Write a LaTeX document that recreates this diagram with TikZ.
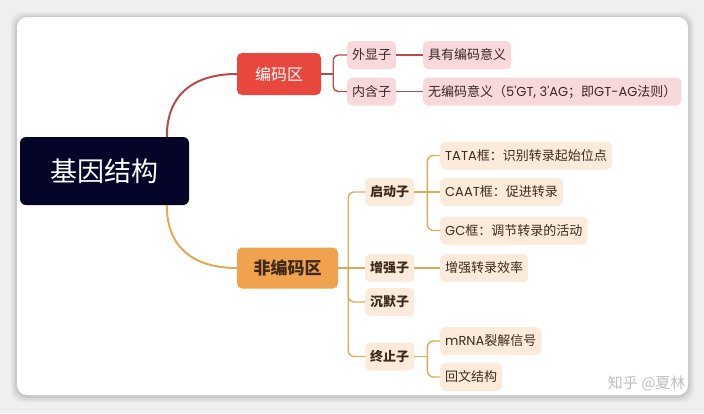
\documentclass[tikz,border=0pt]{standalone}
\usepackage{fontspec}
\setmainfont{Noto Sans CJK SC}
\newfontfamily\lat{Poppins}
\usetikzlibrary{calc}
\definecolor{navy}{HTML}{05052A}
\definecolor{codered}{HTML}{E7473C}
\definecolor{codeline}{HTML}{B84A4A}
\definecolor{pinkfill}{HTML}{F8D8DA}
\definecolor{pinktext}{HTML}{3B2626}
\definecolor{orangefill}{HTML}{F0A24E}
\definecolor{orangeline}{HTML}{E2A957}
\definecolor{peach}{HTML}{FCEBDB}
\definecolor{browntext}{HTML}{3D2A1A}
\definecolor{bggray}{HTML}{EFEFEF}
\tikzset{
  rootbox/.style={fill=navy,text=white,rounded corners=6pt,minimum width=169pt,minimum height=68pt,inner sep=0pt,font=\fontsize{27}{30}\selectfont},
  codebox/.style={fill=codered,text=white,rounded corners=5pt,minimum width=84pt,minimum height=42pt,inner sep=0pt,font=\fontsize{16}{18}\selectfont},
  nonbox/.style={fill=orangefill,text=browntext,rounded corners=5pt,minimum width=101pt,minimum height=41pt,inner sep=0pt,font=\fontsize{17}{19}\selectfont\bfseries},
  pinkbox/.style={fill=pinkfill,text=pinktext,rounded corners=5pt,minimum height=28pt,inner xsep=5pt,inner ysep=0pt,font=\fontsize{13}{15}\selectfont},
  peachbox/.style={fill=peach,text=browntext,rounded corners=5pt,minimum height=28pt,inner xsep=5pt,inner ysep=0pt,font=\fontsize{13}{15}\selectfont},
  peachbold/.style={peachbox,font=\fontsize{13}{15}\selectfont\bfseries},
  rootline/.style={line width=2pt},
  redline/.style={draw=codeline,line width=1.4pt},
  orline/.style={draw=orangeline,line width=1.4pt},
}
\begin{document}
\begin{tikzpicture}[x=1pt,y=-1pt]
\useasboundingbox (0,0) rectangle (704,413);
\fill[bggray] (0,0) rectangle (704,413);
\foreach \s/\o in {6/0.04,4/0.05,2/0.07}{
  \fill[black,opacity=\o,rounded corners=12pt] (17-\s,17-\s+1) rectangle (688+\s,395+\s+1);
}
\fill[white,rounded corners=10pt] (17,17) rectangle (688,395);

\node[rootbox] (root) at (104.5,171) {基因结构};
\node[codebox] (code) at (279,74) {编码区};
\node[nonbox] (non) at (287.5,268) {非编码区};

\node[pinkbox,anchor=west] (exon) at (347,55) {外显子};
\node[pinkbox,anchor=west] (intron) at (347,91.5) {内含子};
\node[pinkbox,anchor=west] (exonL) at (423,55) {具有编码意义};
\node[pinkbox,anchor=west] (intronL) at (423,91.5) {无编码意义（{\lat 5'GT, 3'AG}；即{\lat GT-AG}法则）};

\node[peachbold,anchor=west] (prom) at (365,192) {启动子};
\node[peachbold,anchor=west] (enh) at (365,268) {增强子};
\node[peachbold,anchor=west] (sil) at (365,302) {沉默子};
\node[peachbold,anchor=west] (term) at (365,356.5) {终止子};

\node[peachbox,anchor=west] (tata) at (440,155.5) {{\lat TATA}框：识别转录起始位点};
\node[peachbox,anchor=west] (caat) at (440,192) {{\lat CAAT}框：促进转录};
\node[peachbox,anchor=west] (gc) at (440,230.5) {{\lat GC}框：调节转录的活动};
\node[peachbox,anchor=west] (enhL) at (440,268) {增强转录效率};
\node[peachbox,anchor=west] (mrna) at (440,341) {{\lat mRNA}裂解信号};
\node[peachbox,anchor=west] (palin) at (440,377) {回文结构};

\node[text=black!25,font=\fontsize{15}{17}\selectfont,anchor=east] (wm) at (689,383) {知乎 @夏林};

% root curves
\coordinate (rtop) at ($(root.north west)+(147,0)$);
\coordinate (rbot) at ($(root.south west)+(147,0)$);
\draw[rootline,draw=codeline] (rtop) .. controls +(0,-45) and +(-40,0) .. (code.west);
\draw[rootline,draw=orangeline] (rbot) .. controls +(0,45) and +(-40,0) .. (non.west);

% coding branch
\draw[redline] (code.east) -- ++(12,0) coordinate (cj);
\draw[redline,rounded corners=5pt] (cj) |- (exon.west);
\draw[redline,rounded corners=5pt] (cj) |- (intron.west);
\draw[redline] (exon.east) -- (exonL.west);
\draw[redline] (intron.east) -- (intronL.west);

% non-coding branch
\draw[orline] (non.east) -- ++(10,0) coordinate (nj);
\draw[orline,rounded corners=6pt] (nj) |- (prom.west);
\draw[orline] (nj) -- (enh.west);
\draw[orline,rounded corners=6pt] (nj) |- (sil.west);
\draw[orline,rounded corners=6pt] (nj) |- (term.west);
\draw[orline] (enh.east) -- (enhL.west);

\draw[orline] (prom.east) -- ++(13,0) coordinate (pj);
\draw[orline,rounded corners=6pt] (pj) |- (tata.west);
\draw[orline] (pj) -- (caat.west);
\draw[orline,rounded corners=6pt] (pj) |- (gc.west);

\draw[orline] (term.east) -- ++(13,0) coordinate (tj);
\draw[orline,rounded corners=6pt] (tj) |- (mrna.west);
\draw[orline,rounded corners=6pt] (tj) |- (palin.west);
\end{tikzpicture}
\end{document}
